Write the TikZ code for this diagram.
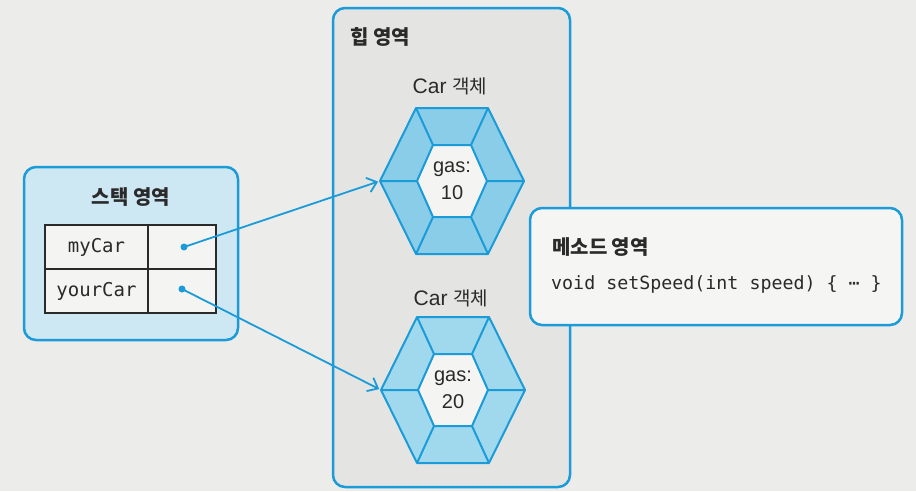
\documentclass[tikz,border=0pt]{standalone}
\usepackage{fontspec}
\setmainfont{Liberation Sans}
\newfontfamily\kr{Noto Sans CJK KR}
\newfontfamily\mono{DejaVu Sans Mono}
\usetikzlibrary{arrows.meta}
\definecolor{blu}{HTML}{1B9BD7}
\definecolor{bgc}{HTML}{ECECEA}
\definecolor{stackfill}{HTML}{CDE7F3}
\definecolor{heapfill}{HTML}{E4E5E3}
\definecolor{methfill}{HTML}{F5F5F3}
\definecolor{hexa}{HTML}{8ACDE8}
\definecolor{hexb}{HTML}{A0D9EE}
\definecolor{innerc}{HTML}{F4F4F2}
\definecolor{ink}{HTML}{2A2A2A}
\newcommand\hexobj[5]{%
  \begin{scope}[shift={(#1)}]
    \fill[#2] (-72,0) -- (-36,-73) -- (36,-73) -- (72,0) -- (36,73) -- (-36,73) -- cycle;
    \fill[innerc] (-35,0) -- (-19,-36) -- (19,-36) -- (35,0) -- (19,36) -- (-19,36) -- cycle;
    \draw[hexline] (-72,0) -- (-36,-73) -- (36,-73) -- (72,0) -- (36,73) -- (-36,73) -- cycle;
    \draw[hexline] (-35,0) -- (-19,-36) -- (19,-36) -- (35,0) -- (19,36) -- (-19,36) -- cycle;
    \draw[hexline] (-72,0) -- (-35,0) (72,0) -- (35,0)
      (-36,-73) -- (-19,-36) (36,-73) -- (19,-36)
      (-36,73) -- (-19,36) (36,73) -- (19,36);
    \coordinate (#3) at (-72,0);
    \node[gastext] (#4) at (0,0) {gas:\\#5};
  \end{scope}}
\begin{document}
\begin{tikzpicture}[x=1pt,y=-1pt,
  box/.style={draw=blu, line width=2.5pt, rounded corners=12pt, inner sep=0pt},
  cell/.style={draw=ink, line width=1.4pt, inner sep=0pt, minimum height=44pt,
     font=\mono\fontsize{19}{20}\selectfont, text=ink, fill=innerc},
  dot/.style={circle, fill=blu, inner sep=0pt, minimum size=7pt},
  hexline/.style={draw=blu, line width=2pt, line join=round},
  gastext/.style={align=center, font=\fontsize{20}{27}\selectfont, text=ink},
  arr/.style={draw=blu, line width=1.8pt, -{Straight Barb[length=9pt,width=15pt,line width=1.8pt]}, shorten >=2pt},
  ktitle/.style={font=\kr\bfseries\fontsize{20}{22}\selectfont, text=ink, inner sep=0pt},
  carlab/.style={font=\fontsize{21}{24}\selectfont, text=ink, inner sep=0pt}
]
\useasboundingbox (0,0) rectangle (916,491);
\fill[bgc] (0,0) rectangle (916,491);
% stack area
\node[box, fill=stackfill, minimum width=214pt, minimum height=173pt] (stack) at (131,253.5) {};
\node[ktitle] (stackt) at (131,197) {스택 영역};
\node[cell, minimum width=103pt] (n1) at (96.5,247) {myCar};
\node[cell, minimum width=68pt] (v1) at (182,247) {};
\node[cell, minimum width=103pt] (n2) at (96.5,291) {yourCar};
\node[cell, minimum width=68pt] (v2) at (182,291) {};
\node[dot] (d1) at (184,247) {};
\node[dot] (d2) at (182,289) {};
% heap area
\node[box, fill=heapfill, minimum width=237pt, minimum height=479pt] (heap) at (451.5,247.5) {};
\node[ktitle, anchor=west] (heapt) at (350,37) {힙 영역};
\node[carlab] (car1) at (450,86) {Car {\kr\fontsize{19}{20}\selectfont 객체}};
\node[carlab] (car2) at (451,298) {Car {\kr\fontsize{19}{20}\selectfont 객체}};
\hexobj{452,181}{hexa}{h1L}{gasa}{10}
\hexobj{453,390}{hexb}{h2L}{gasb}{20}
% method area
\node[box, fill=methfill, minimum width=372pt, minimum height=117pt] (meth) at (716,266.5) {};
\node[ktitle, anchor=west] (metht) at (552,247) {메소드 영역};
\node[anchor=west, inner sep=0pt, font=\mono\fontsize{18.3}{20}\selectfont, text=ink] (code) at (551,284) {void setSpeed(int speed) \{ ⋯ \}};
% arrows
\draw[arr] (d1.center) -- (h1L);
\draw[arr] (d2.center) -- (h2L);
\end{tikzpicture}
\end{document}
